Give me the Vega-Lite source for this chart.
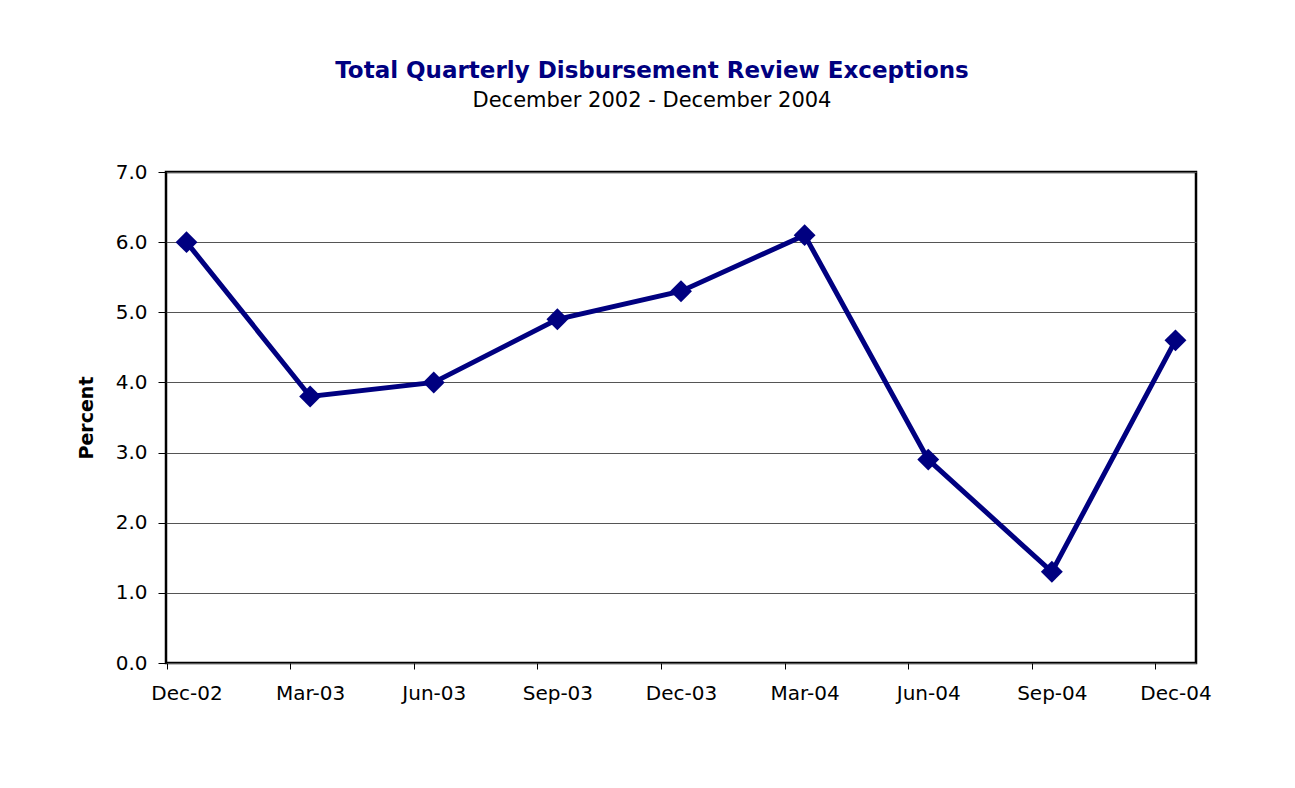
{
  "$schema": "https://vega.github.io/schema/vega-lite/v6.json",
  "autosize": {"type": "none"},
  "width": 1030,
  "height": 491,
  "padding": {"left": 166, "top": 172, "right": 99, "bottom": 125},
  "background": "white",
  "title": {
    "text": "Total Quarterly Disbursement Review Exceptions",
    "subtitle": "December 2002 - December 2004",
    "anchor": "middle",
    "frame": "group",
    "dx": -29,
    "offset": 51,
    "font": "DejaVu Sans",
    "fontSize": 23,
    "fontWeight": "bold",
    "color": "#000080",
    "subtitleFont": "DejaVu Sans",
    "subtitleFontSize": 21,
    "subtitleColor": "#000000",
    "subtitlePadding": 7
  },
  "data": {
    "values": [
      {"quarter": "Dec-02", "percent": 6.0},
      {"quarter": "Mar-03", "percent": 3.8},
      {"quarter": "Jun-03", "percent": 4.0},
      {"quarter": "Sep-03", "percent": 4.9},
      {"quarter": "Dec-03", "percent": 5.3},
      {"quarter": "Mar-04", "percent": 6.1},
      {"quarter": "Jun-04", "percent": 2.9},
      {"quarter": "Sep-04", "percent": 1.3},
      {"quarter": "Dec-04", "percent": 4.6}
    ]
  },
  "encoding": {
    "x": {
      "field": "quarter",
      "type": "ordinal",
      "sort": null,
      "scale": {"type": "point", "padding": 0.166},
      "axis": {
        "title": null,
        "labelAngle": 0,
        "labelFont": "DejaVu Sans",
        "labelFontSize": 20,
        "labelColor": "#000000",
        "labelPadding": 14,
        "tickSize": 6,
        "tickColor": "#000000",
        "tickWidth": 1,
        "tickOffset": -20,
        "labelOffset": 20,
        "domain": false,
        "grid": false
      }
    },
    "y": {
      "field": "percent",
      "type": "quantitative",
      "scale": {"domain": [0, 7], "nice": false},
      "axis": {
        "title": "Percent",
        "titleFont": "DejaVu Sans",
        "titleFontSize": 19,
        "titleFontWeight": "bold",
        "titleColor": "#000000",
        "titlePadding": 19,
        "values": [0, 1, 2, 3, 4, 5, 6, 7],
        "format": ".1f",
        "labelFont": "DejaVu Sans",
        "labelFontSize": 20,
        "labelColor": "#000000",
        "labelPadding": 11,
        "tickSize": 8,
        "tickColor": "#000000",
        "tickWidth": 1,
        "domain": false,
        "grid": true,
        "gridColor": "#555555",
        "gridWidth": 1,
        "gridOpacity": 1
      }
    }
  },
  "layer": [
    {
      "mark": {"type": "line", "color": "#000080", "strokeWidth": 5}
    },
    {
      "mark": {"type": "point", "shape": "diamond", "filled": true, "color": "#000080", "size": 480, "opacity": 1}
    }
  ],
  "config": {
    "view": {"stroke": "#000000", "strokeWidth": 2.5}
  }
}
